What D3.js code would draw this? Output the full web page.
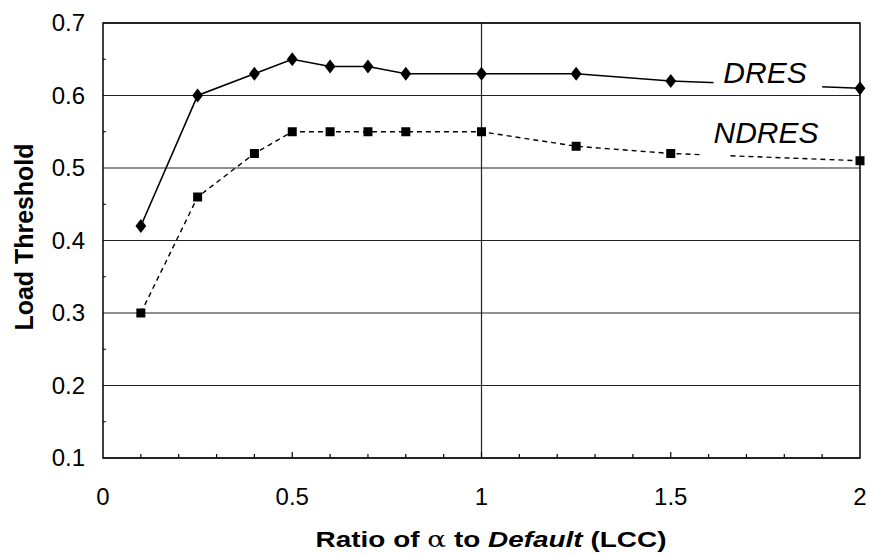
<!DOCTYPE html>
<html><head><meta charset="utf-8">
<script src="https://cdn.jsdelivr.net/npm/d3@7"></script>
<style>body{margin:0;background:#fff}svg{display:block}</style>
</head><body>
<svg id="c" width="870" height="554"></svg>
<script>
const xValues = [0.1, 0.25, 0.4, 0.5, 0.6, 0.7, 0.8, 1.0, 1.25, 1.5, 2.0];
const dres    = [0.42, 0.60, 0.63, 0.65, 0.64, 0.64, 0.63, 0.63, 0.63, 0.62, 0.61];
const ndres   = [0.30, 0.46, 0.52, 0.55, 0.55, 0.55, 0.55, 0.55, 0.53, 0.52, 0.51];
const xTicks = [0, 0.5, 1, 1.5, 2];
const yTicks = [0.1, 0.2, 0.3, 0.4, 0.5, 0.6, 0.7];

const svg = d3.select("#c");
const x = d3.scaleLinear().domain([0, 2]).range([103, 860]);
const y = d3.scaleLinear().domain([0.1, 0.7]).range([458, 23]);
const font = "'Liberation Sans', Arial, sans-serif";

// horizontal grid
svg.append("g").selectAll("line").data(yTicks).join("line")
  .attr("x1", x(0)).attr("x2", x(2)).attr("y1", d => y(d)).attr("y2", d => y(d))
  .attr("stroke", "#222").attr("stroke-width", 1.2);
// vertical grid at 1
svg.append("line").attr("x1", x(1)).attr("x2", x(1)).attr("y1", y(0.7)).attr("y2", y(0.1))
  .attr("stroke", "#222").attr("stroke-width", 1.2);
// frame
svg.append("rect").attr("x", x(0)).attr("y", y(0.7)).attr("width", x(2) - x(0)).attr("height", y(0.1) - y(0.7))
  .attr("fill", "none").attr("stroke", "#000").attr("stroke-width", 1.5);
// minor x ticks
svg.append("g").selectAll("line").data(d3.range(1, 20).map(i => i / 10)).join("line")
  .attr("x1", d => x(d)).attr("x2", d => x(d)).attr("y1", y(0.1)).attr("y2", d => y(0.1) - (Math.abs(d*2 - Math.round(d*2)) < 1e-9 ? 6 : 4))
  .attr("stroke", "#000").attr("stroke-width", 1.2);
// minor y ticks
svg.append("g").selectAll("line").data(d3.range(3, 14, 2).map(i => i / 20)).join("line")
  .attr("x1", x(0)).attr("x2", x(0) + 3).attr("y1", d => y(d)).attr("y2", d => y(d))
  .attr("stroke", "#000").attr("stroke-width", 1);

// tick labels
svg.append("g").selectAll("text").data(yTicks).join("text")
  .attr("x", 85).attr("y", d => y(d)).attr("dy", "0.35em").attr("text-anchor", "end")
  .attr("font-family", font).attr("font-size", 24).text(d => d.toFixed(1));
svg.append("g").selectAll("text").data(xTicks).join("text")
  .attr("x", d => x(d)).attr("y", 505).attr("text-anchor", "middle")
  .attr("font-family", font).attr("font-size", 24).text(d => d);

// horizontal stretch helper
function stretch(sel, cx, cy, target, rot) {
  const w = sel.node().getComputedTextLength();
  const s = target / w;
  sel.attr("x", 0).attr("y", 0)
    .attr("transform", `translate(${cx},${cy})${rot ? " rotate(-90)" : ""} scale(${s},1)`);
}

// axis titles
const xt = svg.append("text").attr("text-anchor", "middle")
  .attr("font-family", font).attr("font-size", 23).attr("font-weight", "bold");
xt.append("tspan").text("Ratio of ");
xt.append("tspan").attr("font-weight", "normal").attr("font-family", "'DejaVu Serif', serif").text("α");
xt.append("tspan").text(" to ");
xt.append("tspan").attr("font-style", "italic").text("Default");
xt.append("tspan").text(" (LCC)");
stretch(xt, 491, 547, 351, false);

const yt = svg.append("text").attr("text-anchor", "middle")
  .attr("font-family", font).attr("font-size", 25).attr("font-weight", "bold").text("Load Threshold");
stretch(yt, 33, 237, 187, true);

const line = d3.line().x(d => x(d[0])).y(d => y(d[1]));
const dPts = xValues.map((v, i) => [v, dres[i]]);
const nPts = xValues.map((v, i) => [v, ndres[i]]);

svg.append("path").attr("d", line(dPts)).attr("fill", "none").attr("stroke", "#000").attr("stroke-width", 1.6);
svg.append("path").attr("d", line(nPts)).attr("fill", "none").attr("stroke", "#000").attr("stroke-width", 1.4)
  .attr("stroke-dasharray", "5,4");

// label backgrounds (gaps in lines)
svg.append("rect").attr("x", x(1.613)).attr("y", y(0.66)).attr("width", x(1.9) - x(1.613)).attr("height", y(0.6) - y(0.66) - 2).attr("fill", "#fff");
svg.append("rect").attr("x", x(1.577)).attr("y", y(0.535)).attr("width", x(1.65) - x(1.577)).attr("height", y(0.5) - y(0.535) - 2).attr("fill", "#fff");

// markers
svg.append("g").selectAll("path").data(dPts).join("path")
  .attr("d", d3.symbol(d3.symbolDiamond, 70))
  .attr("transform", d => `translate(${x(d[0])},${y(d[1])}) scale(1.2,0.9)`).attr("fill", "#000");
svg.append("g").selectAll("rect").data(nPts).join("rect")
  .attr("x", d => x(d[0]) - 4.5).attr("y", d => y(d[1]) - 4.5).attr("width", 9).attr("height", 9).attr("fill", "#000");

// series labels
svg.append("text").attr("x", 765).attr("y", 83).attr("text-anchor", "middle").attr("font-family", font)
  .attr("font-size", 30).attr("font-style", "italic").text("DRES");
svg.append("text").attr("x", 766).attr("y", 143).attr("text-anchor", "middle").attr("font-family", font)
  .attr("font-size", 30).attr("font-style", "italic").text("NDRES");
</script>
</body></html>
